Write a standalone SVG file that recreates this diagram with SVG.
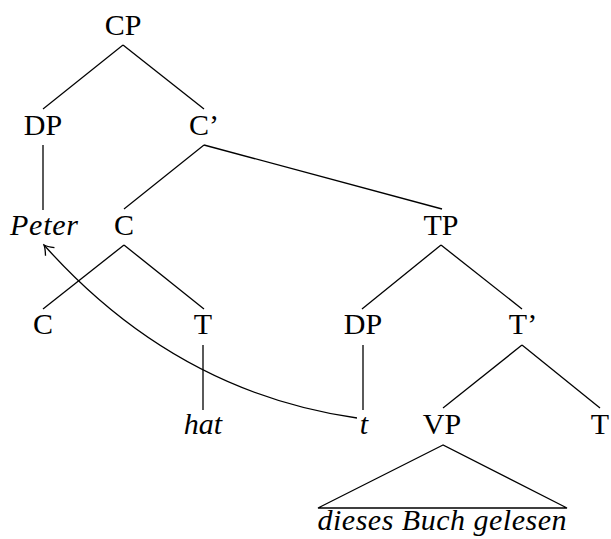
<svg xmlns="http://www.w3.org/2000/svg" width="611" height="539" viewBox="0 0 611 539">
  <defs>
    <style>
      text { font-family: "Liberation Serif", "DejaVu Serif", serif; font-size: 30px; fill: #000; text-anchor: middle; }
      .it { font-style: italic; }
      .edge { stroke: #000; stroke-width: 1.3; fill: none; }
    </style>
    <marker id="head" viewBox="-12 -7 14 14" markerWidth="14" markerHeight="14" refX="0" refY="0" orient="auto" markerUnits="userSpaceOnUse">
      <path d="M -9,-6 Q -3,-1 0,0 Q -3,1 -9,6" fill="none" stroke="#000" stroke-width="1.3"/>
    </marker>
  </defs>
  <rect width="611" height="539" fill="#fff"/>

  <g id="connectors">
    <line class="edge" x1="123" y1="45" x2="43" y2="109"/>
    <line class="edge" x1="123" y1="45" x2="204" y2="109"/>
    <line class="edge" x1="43" y1="145" x2="43" y2="210"/>
    <line class="edge" x1="204" y1="145" x2="124" y2="209"/>
    <line class="edge" x1="204" y1="145" x2="442" y2="209"/>
    <line class="edge" x1="124" y1="245" x2="43" y2="309"/>
    <line class="edge" x1="124" y1="245" x2="204" y2="309"/>
    <line class="edge" x1="441" y1="245" x2="362" y2="309"/>
    <line class="edge" x1="441" y1="245" x2="522" y2="309"/>
    <line class="edge" x1="203" y1="345" x2="203" y2="410"/>
    <line class="edge" x1="363" y1="345" x2="363" y2="410"/>
    <line class="edge" x1="522" y1="345" x2="443" y2="408"/>
    <line class="edge" x1="522" y1="345" x2="600" y2="408"/>
    <polygon class="edge" points="443,445 318,508 567,508"/>
    <path class="edge" d="M 357,418 Q 175,392 44,245" marker-end="url(#head)"/>
  </g>

  <g id="CP"><text x="123" y="35">CP</text></g>
  <g id="DP1"><text x="43" y="135">DP</text></g>
  <g id="Cbar"><text x="204" y="135">C’</text></g>
  <g id="Peter"><text class="it" x="44" y="235" textLength="68">Peter</text></g>
  <g id="C1"><text x="124" y="235">C</text></g>
  <g id="TP"><text x="441" y="235">TP</text></g>
  <g id="C2"><text x="43" y="334">C</text></g>
  <g id="T1"><text x="203" y="334">T</text></g>
  <g id="DP2"><text x="363" y="334">DP</text></g>
  <g id="Tbar"><text x="523" y="334">T’</text></g>
  <g id="hat"><text class="it" x="203" y="434">hat</text></g>
  <g id="trace"><text class="it" x="364" y="434">t</text></g>
  <g id="VP"><text x="442" y="434">VP</text></g>
  <g id="T2"><text x="600" y="434">T</text></g>
  <g id="VPcontent"><text class="it" x="442" y="530" textLength="249">dieses Buch gelesen</text></g>
</svg>
